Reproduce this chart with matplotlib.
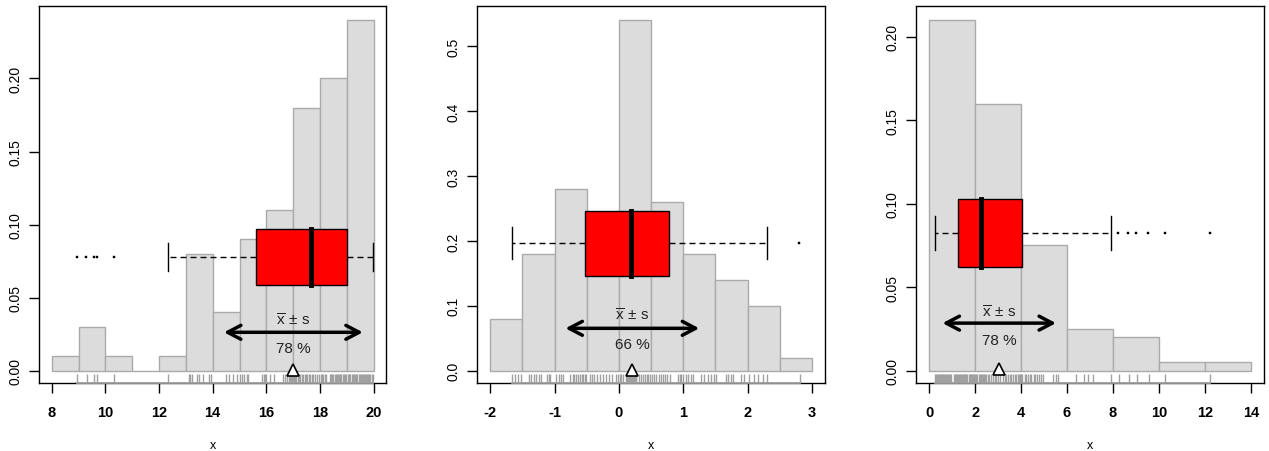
import matplotlib
matplotlib.use("Agg")
import matplotlib.pyplot as plt
import numpy as np

plt.rcParams["font.family"] = ["Liberation Sans", "DejaVu Sans"]
plt.rcParams["axes.unicode_minus"] = False
plt.rcParams["mathtext.fontset"] = "custom"
plt.rcParams["mathtext.rm"] = "Liberation Sans"
plt.rcParams["mathtext.it"] = "Liberation Sans:italic"

# ---- panel 1 (left skewed) ----
edges1 = [8, 9, 10, 11, 12, 13, 14, 15, 16, 17, 18, 19, 20]
dens1 = [0.01, 0.03, 0.01, 0.00, 0.01, 0.08, 0.04, 0.09, 0.11, 0.18, 0.20, 0.24]
rug1 = [8.95, 9.3, 9.58, 9.68, 10.33, 12.33,
        13.1, 13.15, 13.22, 13.4, 13.5, 13.65, 13.85, 13.93,
        14.5, 14.6, 14.75, 14.9,
        15.03, 15.1, 15.15, 15.27, 15.3, 15.85, 15.9, 15.96, 15.98,
        16.14, 16.27, 16.62, 16.7, 16.77, 16.83, 16.88, 16.9, 16.93, 16.96, 16.99,
        17.02, 17.08, 17.12, 17.18, 17.22, 17.27, 17.33, 17.38, 17.43, 17.48,
        17.52, 17.58, 17.63, 17.7, 17.75, 17.82, 17.88, 17.95,
        18.03, 18.08, 18.13, 18.18, 18.23, 18.38, 18.42, 18.46, 18.5, 18.55,
        18.6, 18.64, 18.68, 18.72, 18.76, 18.8, 18.85, 18.9, 18.94, 18.98,
        19.03, 19.07, 19.1, 19.14, 19.18, 19.22, 19.26, 19.3, 19.35, 19.4, 19.44, 19.48,
        19.52, 19.56, 19.6, 19.64, 19.68, 19.72, 19.76, 19.8, 19.84, 19.88, 19.93, 19.97]
box1 = dict(whislo=12.33, q1=15.63, med=17.67, q3=19.0, whishi=19.97,
            fliers=[8.93, 9.28, 9.58, 9.70, 10.33])
mean1, sd1, pct1 = 17.01, 2.59, "78 %"
xticks1 = [8, 10, 12, 14, 16, 18, 20]
yticks1 = [0.00, 0.05, 0.10, 0.15, 0.20]

# ---- panel 2 (symmetric) ----
edges2 = [-2, -1.5, -1, -0.5, 0, 0.5, 1, 1.5, 2, 2.5, 3]
dens2 = [0.08, 0.18, 0.28, 0.22, 0.54, 0.26, 0.18, 0.14, 0.10, 0.02]
rug2 = [-1.66, -1.62, -1.57, -1.52,
        -1.40, -1.36, -1.32, -1.28, -1.24, -1.21, -1.11, -1.09, -1.07,
        -0.97, -0.93, -0.90, -0.87, -0.76, -0.72, -0.69, -0.66, -0.63, -0.60, -0.57, -0.55, -0.52, -0.51,
        -0.45, -0.41, -0.38, -0.34, -0.30, -0.25, -0.20, -0.15, -0.10, -0.05, -0.02,
        0.02, 0.04, 0.06, 0.11, 0.12, 0.13, 0.14, 0.15, 0.16, 0.17, 0.18, 0.19, 0.20, 0.21,
        0.22, 0.23, 0.24, 0.25, 0.26, 0.27, 0.32, 0.35, 0.38, 0.41, 0.44, 0.46, 0.49,
        0.52, 0.55, 0.58, 0.62, 0.65, 0.68, 0.72, 0.75, 0.79, 0.92, 0.95, 0.97, 0.99,
        1.04, 1.08, 1.12, 1.15, 1.28, 1.33, 1.38, 1.43, 1.48,
        1.51, 1.67, 1.70, 1.74, 1.77, 1.90, 1.95,
        2.03, 2.10, 2.17, 2.24, 2.31, 2.81]
box2 = dict(whislo=-1.668, q1=-0.522, med=0.184, q3=0.78, whishi=2.31, fliers=[2.80])
mean2, sd2, pct2 = 0.21, 1.04, "66 %"
xticks2 = [-2, -1, 0, 1, 2, 3]
yticks2 = [0.0, 0.1, 0.2, 0.3, 0.4, 0.5]

# ---- panel 3 (right skewed) ----
edges3 = [0, 2, 4, 6, 8, 10, 12, 14]
dens3 = [0.21, 0.16, 0.075, 0.025, 0.02, 0.005, 0.005]
rug3 = [0.26, 0.3, 0.34, 0.38, 0.42, 0.46, 0.5, 0.54, 0.58, 0.62, 0.66, 0.7, 0.74, 0.78,
        0.82, 0.86, 0.9, 0.95, 1.1, 1.14, 1.18, 1.22, 1.26, 1.3, 1.34, 1.38, 1.42, 1.46,
        1.5, 1.54, 1.58, 1.6, 1.64, 1.72, 1.76, 1.8, 1.84, 1.88, 1.92, 1.95, 1.97, 1.99,
        2.05, 2.1, 2.15, 2.2, 2.25, 2.3, 2.35, 2.4, 2.45, 2.49, 2.56, 2.62, 2.7, 2.78,
        2.85, 2.92, 3.0, 3.07, 3.2, 3.28, 3.35, 3.42, 3.5, 3.57, 3.65, 3.72, 3.8, 3.86,
        3.92, 3.96, 3.98, 3.99,
        4.05, 4.15, 4.22, 4.3, 4.38, 4.45, 4.55, 4.62, 4.7, 4.8, 4.88, 4.95, 5.39, 5.5, 5.6,
        6.37, 6.76, 6.9, 7.12, 7.92, 8.25, 8.7, 9.03, 9.56, 10.27, 12.22]
box3 = dict(whislo=0.26, q1=1.27, med=2.27, q3=4.05, whishi=7.90,
            fliers=[8.22, 8.66, 9.0, 9.53, 10.25, 12.22])
mean3, sd3, pct3 = 3.05, 2.47, "78 %"
xticks3 = [0, 2, 4, 6, 8, 10, 12, 14]
yticks3 = [0.00, 0.05, 0.10, 0.15, 0.20]

# placement of boxplot / arrow / labels in data units (y)
box_y = [0.078, 0.1963, 0.0824]
box_h = [0.038, 0.0995, 0.0407]
arrow_y = [0.0263, 0.0653, 0.0285]
lab_y = [0.035, 0.0859, 0.0355]
pct_y = [0.0158, 0.0406, 0.0186]
ax_left = [39, 477.3, 916.3]

panels = [
    (edges1, dens1, rug1, box1, mean1, sd1, pct1, xticks1, yticks1, "%.2f"),
    (edges2, dens2, rug2, box2, mean2, sd2, pct2, xticks2, yticks2, "%.1f"),
    (edges3, dens3, rug3, box3, mean3, sd3, pct3, xticks3, yticks3, "%.2f"),
]

W, H = 1269, 452
fig = plt.figure(figsize=(W / 100, H / 100), dpi=100)

for i, (edges, dens, rug, bstats, mu, sd, pct, xt, yt, yfmt) in enumerate(panels):
    ax = fig.add_axes([ax_left[i] / W, 68 / H, 347.4 / W, 377 / H])
    edges = np.array(edges, dtype=float)
    bw = edges[1] - edges[0]
    ax.bar(edges[:-1], dens, width=bw, align="edge", color="#DCDCDC",
           edgecolor="#AAAAAA", linewidth=1, zorder=1)

    ax.bxp([dict(bstats)], positions=[box_y[i]], widths=[box_h[i]],
           orientation="horizontal", patch_artist=True, manage_ticks=False,
           boxprops=dict(facecolor="red", edgecolor="black", linewidth=1),
           whiskerprops=dict(color="black", linewidth=1, linestyle=(0, (4.3, 2.9))),
           capprops=dict(color="black", linewidth=1),
           medianprops=dict(color="black", linewidth=3.5, solid_capstyle="projecting"),
           flierprops=dict(marker="s", markersize=1.6, markerfacecolor="black",
                           markeredgecolor="black", markeredgewidth=0.3),
           zorder=3)

    ax.annotate("", xy=(mu + sd, arrow_y[i]), xytext=(mu - sd, arrow_y[i]),
                arrowprops=dict(arrowstyle="<->,head_length=0.95,head_width=0.5",
                                lw=2.5, color="black", shrinkA=0, shrinkB=0),
                zorder=4)
    ax.text(mu, lab_y[i], r"$\overline{\mathrm{x}}\,\pm\,\mathrm{s}$", ha="center",
            va="center", fontsize=11, color="#222222", zorder=4)
    ax.text(mu, pct_y[i], pct, ha="center", va="center", fontsize=11,
            color="#222222", zorder=4)

    # rug along the bottom
    trans = ax.get_xaxis_transform()
    ax.vlines(rug, 0, 0.024, transform=trans, colors="#A0A0A0", linewidth=1, zorder=4)
    ax.plot([min(rug), max(rug)], [0, 0], transform=trans, color="#A0A0A0",
            linewidth=1.3, zorder=6, clip_on=False)

    ax.plot([mu], [0.0008], marker="^", markersize=9, markerfacecolor="white",
            markeredgecolor="black", markeredgewidth=1.2, zorder=5, clip_on=False)

    xr = edges[-1] - edges[0]
    ax.set_xlim(edges[0] - 0.04 * xr, edges[-1] + 0.04 * xr)
    m = max(dens)
    ax.set_ylim(-0.035 * m, 1.04 * m)

    ax.set_xticks(xt)
    ax.set_xticklabels([str(v) for v in xt], fontsize=10.5, fontweight="bold")
    ax.set_yticks(yt)
    ax.set_yticklabels([yfmt % v for v in yt], fontsize=10, rotation=90, va="center")
    ax.tick_params(axis="both", direction="out", length=7, width=1, colors="black")
    ax.tick_params(axis="x", pad=9)
    ax.tick_params(axis="y", pad=5)
    for s in ax.spines.values():
        s.set_linewidth(1)
        s.set_color("black")
    ax.set_xlabel("x", fontsize=9, labelpad=14)

fig.savefig("out.png", dpi=100)
